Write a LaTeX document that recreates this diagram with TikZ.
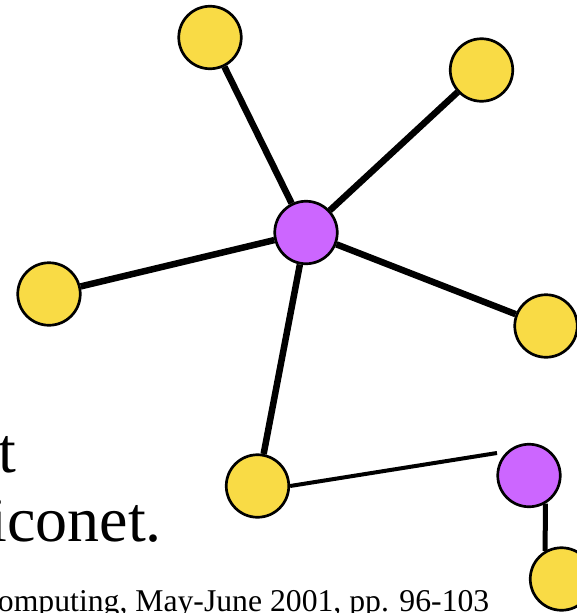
\documentclass[tikz,border=0pt]{standalone}
\usepackage{fontspec}
\setmainfont{Liberation Serif}
\usetikzlibrary{backgrounds}
\definecolor{nodeyellow}{RGB}{249,219,69}
\definecolor{nodepurple}{RGB}{204,102,255}
\tikzset{
  slave/.style={circle, draw=black, line width=2.7pt, fill=nodeyellow, minimum size=62.5pt, inner sep=0pt},
  master/.style={circle, draw=black, line width=2.7pt, fill=nodepurple, minimum size=62.5pt, inner sep=0pt},
  thickedge/.style={line width=6.5pt, black},
  bridgeedge/.style={line width=4pt, black},
  vertedge/.style={line width=5pt, black},
  bigtext/.style={font=\fontsize{64}{70}\selectfont, inner sep=0pt, anchor=base east},
  smalltext/.style={font=\fontsize{31.7}{36}\selectfont, inner sep=0pt, anchor=base east}
}
\begin{document}
\begin{tikzpicture}[x=1pt,y=-1pt]
\useasboundingbox (0,0) rectangle (577,613);
% piconet 1
\node[master] (m1) at (306,232.5) {};
\node[slave] (s1) at (210,37.5) {};
\node[slave] (s2) at (481.5,70) {};
\node[slave] (s3) at (49,294) {};
\node[slave] (s4) at (546,326) {};
\node[slave] (s5) at (257.5,486) {};
% piconet 2
\node[master] (m2) at (529,475.5) {};
\node[slave] (s6) at (561.5,579) {};
\coordinate (m2a) at ([shift={(-32,-22.5)}]m2.center);
\begin{scope}[on background layer]
\draw[thickedge] (m1) -- (s1);
\draw[thickedge] (m1) -- (s2);
\draw[thickedge] (m1) -- (s3);
\draw[thickedge] (m1) -- (s4);
\draw[thickedge] (m1) -- (s5);
\draw[bridgeedge] (s5.east) -- (m2a);
\draw[vertedge] (m2.300) -- (s6.120);
\end{scope}
% text
\node[bigtext] (t1) at (16,472) {t};
\node[bigtext] (t2) at (162,541) {iconet.};
\node[smalltext] (t3) at (489.5,611) {Computing, May-June 2001, pp. 96-103};
\end{tikzpicture}
\end{document}
